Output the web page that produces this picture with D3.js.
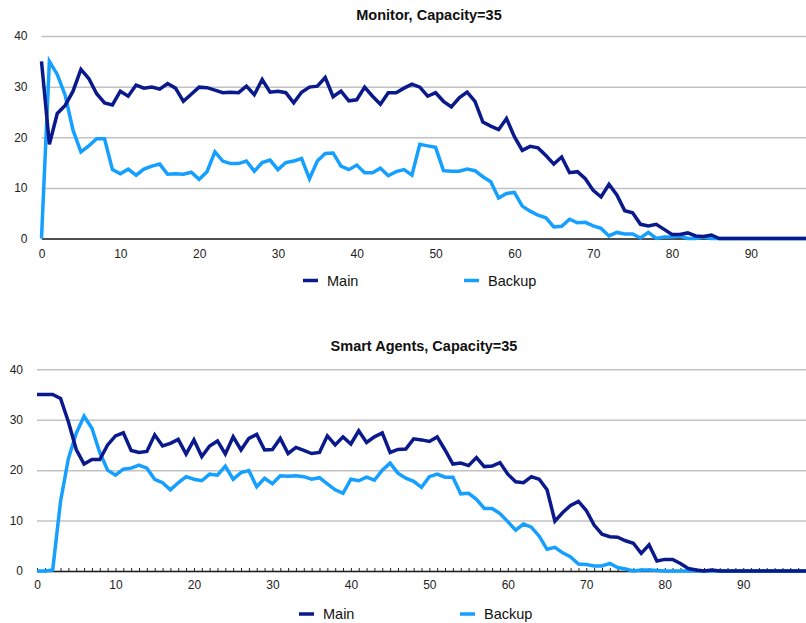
<!DOCTYPE html>
<html>
<head>
<meta charset="utf-8">
<script src="https://cdn.jsdelivr.net/npm/d3@7/dist/d3.min.js"></script>
<style>
  html, body { margin: 0; padding: 0; background: #fff; }
  svg { display: block; font-family: "Liberation Sans", Arial, Helvetica, sans-serif; }
</style>
</head>
<body>
<div id="svgContainer"></div>
<script>
// values, one entry per step (x = index)
const monitorMain = [
  35, 18.6, 24.7, 26.3, 29.1, 33.4, 31.6, 28.6, 26.8, 26.4,
  29.1, 28.1, 30.3, 29.7, 29.9, 29.5, 30.6, 29.7, 27.1, 28.5,
  29.9, 29.8, 29.3, 28.8, 28.9, 28.8, 30.1, 28.4, 31.4, 28.9,
  29.1, 28.8, 26.8, 28.9, 29.9, 30.1, 31.8, 28.0, 29.1, 27.2,
  27.4, 29.9, 28.1, 26.5, 28.8, 28.8, 29.7, 30.5, 29.9, 28.1,
  28.8, 27.1, 26.0, 27.8, 28.9, 27.1, 23.0, 22.2, 21.5, 23.7,
  20.1, 17.4, 18.2, 17.9, 16.4, 14.7, 16.1, 13.0, 13.2, 11.8,
  9.5, 8.2, 10.7, 8.6, 5.5, 5.1, 2.8, 2.5, 2.8, 1.8,
  0.8, 0.8, 1.1, 0.5, 0.4, 0.7, 0, 0, 0, 0,
  0, 0, 0, 0, 0, 0, 0, 0
];
const monitorBackup = [
  0, 35, 32.4, 28.3, 21.4, 17.1, 18.3, 19.7, 19.7, 13.6,
  12.8, 13.7, 12.5, 13.7, 14.3, 14.7, 12.7, 12.8, 12.7, 13.1,
  11.7, 13.2, 17.1, 15.3, 14.8, 14.8, 15.3, 13.3, 15.0, 15.5,
  13.6, 15.0, 15.3, 15.8, 11.8, 15.3, 16.8, 16.9, 14.3, 13.6,
  14.5, 13.0, 13.0, 13.9, 12.4, 13.2, 13.6, 12.5, 18.6, 18.3,
  18.0, 13.4, 13.3, 13.3, 13.7, 13.4, 12.2, 11.2, 8.0, 8.9,
  9.1, 6.4, 5.4, 4.6, 4.1, 2.3, 2.4, 3.8, 3.1, 3.2,
  2.5, 2.0, 0.5, 1.2, 0.9, 0.9, 0.1, 1.2, 0, 0.3,
  0.3, 0.5, 0, 0, 0.3, 0, 0, 0, 0, 0,
  0, 0, 0, 0, 0, 0, 0, 0
];
const agentsMain = [
  35, 35, 35, 34.2, 29.6, 24.1, 21.2, 22.1, 22.1, 25.0,
  26.8, 27.4, 23.9, 23.5, 23.7, 27.0, 24.8, 25.3, 26.1, 23.2,
  26.0, 22.7, 24.8, 25.8, 23.2, 26.6, 24.0, 26.3, 27.1, 24.0,
  24.1, 26.3, 23.3, 24.5, 23.9, 23.3, 23.5, 26.8, 25.0, 26.6,
  25.2, 27.8, 25.5, 26.6, 27.4, 23.5, 24.1, 24.2, 26.2, 26.0,
  25.7, 26.6, 24.0, 21.2, 21.4, 20.9, 22.5, 20.7, 20.8, 21.5,
  19.2, 17.7, 17.5, 18.7, 18.2, 16.1, 9.9, 11.6, 13.0, 13.8,
  12.0, 9.1, 7.3, 6.8, 6.7, 6.0, 5.5, 3.5, 5.2, 2.0,
  2.3, 2.3, 1.5, 0.5, 0.2, 0, 0.2, 0, 0, 0,
  0, 0, 0, 0, 0, 0, 0, 0, 0
];
const agentsBackup = [
  0, 0, 0.2, 13.8, 22.3, 27.3, 30.7, 28.3, 23.5, 20.0,
  19.0, 20.2, 20.4, 21.0, 20.4, 18.2, 17.5, 16.1, 17.5, 18.7,
  18.2, 17.9, 19.2, 19.0, 20.8, 18.2, 19.5, 19.9, 16.7, 18.4,
  17.3, 18.9, 18.8, 18.9, 18.7, 18.2, 18.5, 17.3, 16.1, 15.4,
  18.2, 17.9, 18.6, 18.0, 20.0, 21.4, 19.4, 18.4, 17.8, 16.6,
  18.7, 19.2, 18.6, 18.6, 15.3, 15.4, 14.2, 12.4, 12.4, 11.4,
  9.8, 8.1, 9.3, 8.7, 6.9, 4.3, 4.7, 3.6, 2.8, 1.4,
  1.3, 1.0, 1.0, 1.5, 0.7, 0.4, 0, 0.2, 0.2, 0.1,
  0, 0, 0, 0, 0, 0, 0, 0, 0, 0,
  0, 0, 0, 0, 0, 0, 0, 0, 0
];
const seriesNames = ['Main', 'Backup'];
const seriesColors = ['#0a1a8c', '#159fff'];
const yTicks = [0, 10, 20, 30, 40];
const xTicks = [0, 10, 20, 30, 40, 50, 60, 70, 80, 90];

const W = 806, H = 623;
const svg = d3.select('#svgContainer').append('svg')
  .attr('width', W).attr('height', H);

function drawChart(opts) {
  const { title, series, left, right, top, bottom, titleX, titleY,
    labelGap, legendY, legendX, minorTicks } = opts;
  const n = series[0].length - 1;
  const x = d3.scaleLinear().domain([0, n]).range([left, right]);
  const y = d3.scaleLinear().domain([0, 40]).range([bottom, top]);
  const g = svg.append('g');

  // gridlines + y labels
  const yAxis = d3.axisLeft(y).tickValues(yTicks)
    .tickSize(-(right - left)).tickPadding(14);
  g.append('g').attr('transform', `translate(${left},0)`).call(yAxis)
    .call(a => a.select('.domain').remove())
    .call(a => a.selectAll('line').attr('stroke', '#c2c2c2').attr('stroke-width', 1.5))
    .call(a => a.selectAll('text').attr('fill', '#222').style('font-size', '12px'));

  // x axis line and labels
  const xAxis = d3.axisBottom(x).tickValues(xTicks).tickSize(0)
    .tickSizeOuter(0).tickPadding(labelGap);
  g.append('g').attr('transform', `translate(0,${bottom})`).call(xAxis)
    .call(a => a.select('.domain').attr('stroke', '#222').attr('stroke-width', 1.3))
    .call(a => a.selectAll('text').attr('fill', '#222').style('font-size', '12px'));

  if (minorTicks) {
    const minor = d3.axisBottom(x).tickValues(d3.range(0, n + 1))
      .tickFormat('').tickSizeInner(-3).tickSizeOuter(0);
    g.append('g').attr('transform', `translate(0,${bottom})`).call(minor)
      .call(a => a.select('.domain').remove())
      .call(a => a.selectAll('line').attr('y1', 1).attr('stroke', '#222'));
  }

  // Backup first so Main sits on top (visible along the zero tail)
  const line = d3.line().x((d, i) => x(i)).y(d => y(d));
  [1, 0].forEach(k => {
    g.append('path').datum(series[k])
      .attr('fill', 'none')
      .attr('stroke', seriesColors[k])
      .attr('stroke-width', 3.5)
      .attr('d', line);
  });

  g.append('text').attr('x', titleX).attr('y', titleY)
    .attr('text-anchor', 'middle').attr('fill', '#111')
    .style('font-size', '14.5px').style('font-weight', 'bold')
    .text(title);

  const lg = g.append('g').selectAll('g').data(seriesNames).enter().append('g')
    .attr('transform', (d, i) => `translate(${legendX[i]},${legendY})`);
  lg.append('line').attr('x1', 0).attr('x2', 15).attr('y1', -5).attr('y2', -5)
    .attr('stroke', (d, i) => seriesColors[i]).attr('stroke-width', 3.5);
  lg.append('text').attr('x', 24).attr('y', 0).attr('fill', '#111')
    .style('font-size', '14.5px').text(d => d);
}

drawChart({
  title: 'Monitor, Capacity=35',
  series: [monitorMain, monitorBackup],
  left: 41.5, right: 806, top: 36, bottom: 238.5,
  titleX: 429, titleY: 20, labelGap: 11,
  legendX: [303, 464], legendY: 285.5, minorTicks: false
});
drawChart({
  title: 'Smart Agents, Capacity=35',
  series: [agentsMain, agentsBackup],
  left: 37, right: 806, top: 369.3, bottom: 571,
  titleX: 424, titleY: 351, labelGap: 9.5,
  legendX: [299, 460], legendY: 619, minorTicks: true
});
</script>
</body>
</html>
